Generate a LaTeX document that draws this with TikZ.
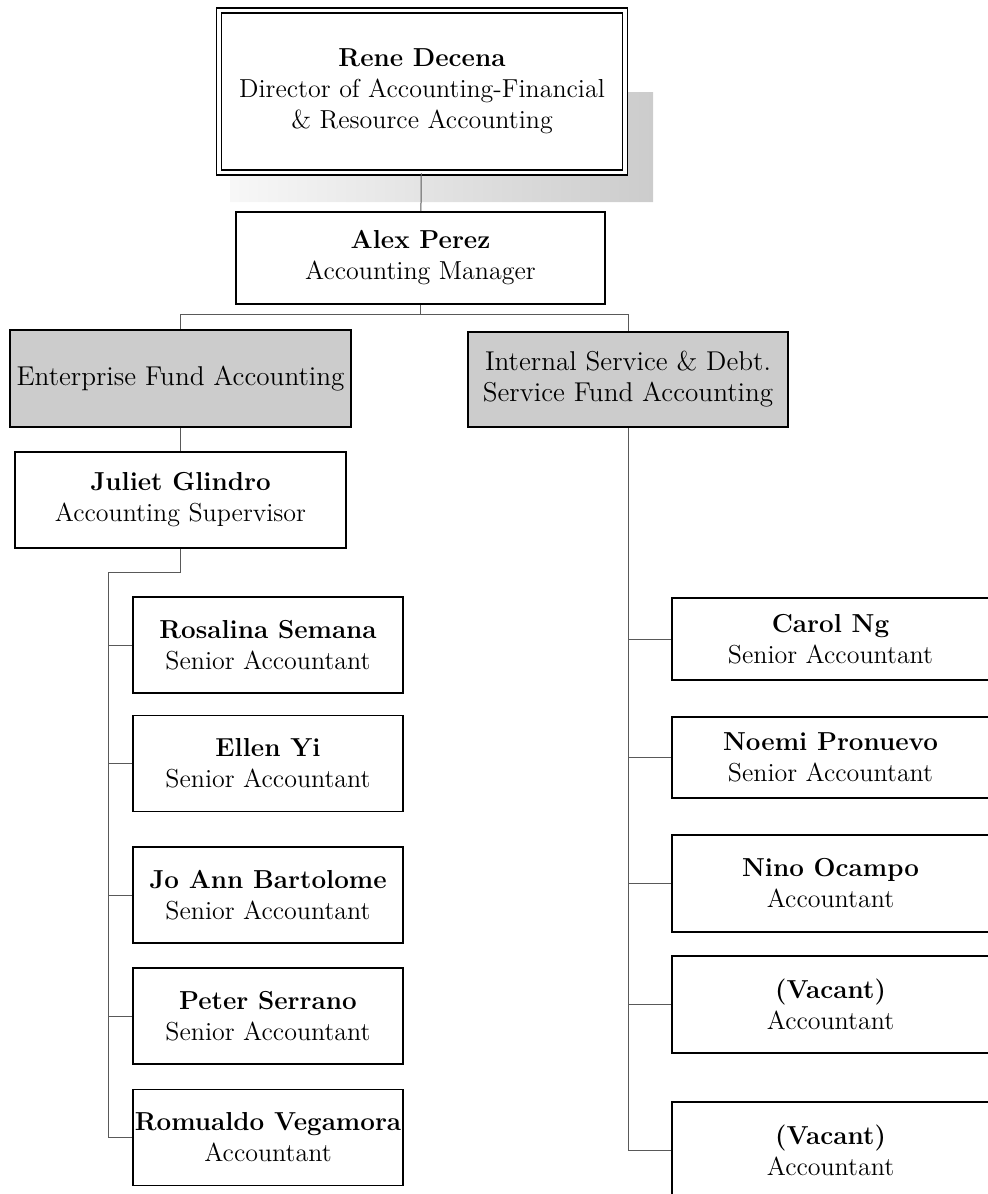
\documentclass[tikz,border=0pt]{standalone}
\usepackage{fontspec}
\usetikzlibrary{positioning,calc}

\begin{document}
\begin{tikzpicture}[x=0.5pt,y=-0.5pt,
  box/.style={draw,line width=0.8pt,align=center,inner sep=1pt,font=\fontsize{13}{15.5}\selectfont},
  unit/.style={box,fill=gray!40,font=\fontsize{13.6}{15.5}\selectfont},
  link/.style={draw=black!65,line width=0.5pt}]
\useasboundingbox (0,0) rectangle (987,1194);
% shadow of the director box
\shade[left color=gray!6,right color=gray!40] (628,92) -- (653,92) -- (653,202) -- (230,202) -- (230,176) -- (628,176) -- cycle;
\node[box,fill=white,double,double distance=1.6pt,minimum width=203pt,minimum height=81pt] (dir) at (422,91.5)
  {\textbf{Rene Decena}\\Director of Accounting-Financial\\\& Resource Accounting};
\node[box,minimum width=184.5pt,minimum height=46pt] (alex) at (420.5,258) {\textbf{Alex Perez}\\Accounting Manager};
\node[unit,minimum width=170.5pt,minimum height=48.5pt] (efa) at (180.5,378.5) {Enterprise Fund Accounting};
\node[unit,minimum width=160pt,minimum height=47.5pt] (isa) at (628,379.5) {Internal Service \& Debt.\\Service Fund Accounting};
\node[box,minimum width=165.5pt,minimum height=48pt] (juliet) at (180.5,500) {\textbf{Juliet Glindro}\\Accounting Supervisor};

% enterprise fund staff
\foreach \n/\y/\who/\job in {rosalina/645/Rosalina Semana/Senior Accountant,
    ellen/763.5/Ellen Yi/Senior Accountant, joann/895/Jo Ann Bartolome/Senior Accountant,
    peter/1016/Peter Serrano/Senior Accountant, romualdo/1137.5/Romualdo Vegamora/Accountant}
  \node[box,minimum width=135pt,minimum height=48pt] (\n) at (268,\y) {\textbf{\who}\\\job};

% internal service staff
\foreach \n/\y/\h/\who/\job in {carol/639/41/Carol Ng/Senior Accountant,
    noemi/757.5/40.5/Noemi Pronuevo/Senior Accountant, nino/883.5/48.5/Nino Ocampo/Accountant,
    vac1/1004.5/48.5/(Vacant)/Accountant, vac2/1150.5/48.5/(Vacant)/Accountant}
  \node[box,minimum width=158.5pt,minimum height=\h pt] (\n) at (830.5,\y) {\textbf{\who}\\\job};

% connectors
\draw[link] (dir) -- (alex);
\draw[link] (alex.south) -- ++(0,10) coordinate (bar);
\draw[link] (bar) -| (efa.north);
\draw[link] (bar) -| (isa.north);
\draw[link] (efa) -- (juliet);
\coordinate (lt) at (108,572);
\draw[link] (juliet.south) |- (lt) |- (romualdo.west);
\foreach \n in {rosalina,ellen,joann,peter}
  \draw[link] (lt |- \n.west) -- (\n.west);
\draw[link] (isa.south) |- (vac2.west);
\foreach \n in {carol,noemi,nino,vac1}
  \draw[link] (isa.south |- \n.west) -- (\n.west);
\end{tikzpicture}
\end{document}
